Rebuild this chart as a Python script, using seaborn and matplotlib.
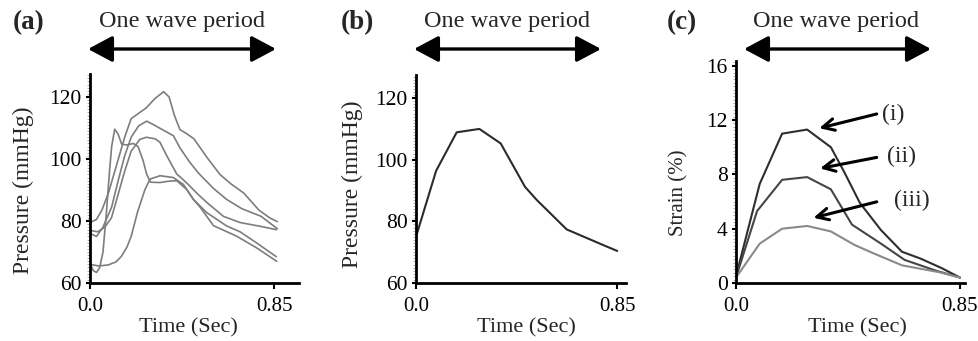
import matplotlib
matplotlib.use("Agg")
import matplotlib.pyplot as plt
import pandas as pd
import seaborn as sns
from matplotlib.patches import FancyArrowPatch
from matplotlib.ticker import MultipleLocator, FixedLocator

# (a) five measured pressure waveforms (time in s, pressure in mmHg)
t_a1 = [0.0, 0.03, 0.055, 0.085, 0.11, 0.135, 0.16, 0.19, 0.22, 0.26, 0.30, 0.34, 0.365,
        0.39, 0.415, 0.445, 0.48, 0.54, 0.60, 0.65, 0.71, 0.78, 0.83, 0.865]
p_a1 = [79.5, 80.5, 83.5, 89, 95, 101, 107, 113, 114.5, 116.5, 119.5, 121.7, 120,
        114, 109.5, 108.2, 106.5, 100.5, 95, 92, 89, 83.5, 81, 79.8]
t_a2 = [0.0, 0.03, 0.06, 0.10, 0.13, 0.16, 0.19, 0.225, 0.262, 0.30, 0.346, 0.385, 0.416,
        0.46, 0.50, 0.57, 0.63, 0.70, 0.79, 0.865]
p_a2 = [76, 75, 78, 84.5, 93, 101, 107, 110.7, 112.2, 110.8, 109, 107.5, 103.5,
        99, 95.5, 90.5, 87, 84, 81.5, 77.5]
t_a3 = [0.0, 0.035, 0.068, 0.099, 0.13, 0.16, 0.19, 0.23, 0.26, 0.30, 0.323, 0.354, 0.40,
        0.446, 0.50, 0.539, 0.616, 0.693, 0.785, 0.86]
p_a3 = [77, 76.5, 78, 81, 88.6, 96, 102.5, 106.3, 107, 106.5, 105.4, 101.1, 95.2,
        92.3, 88.5, 86, 81.5, 79.5, 78.3, 77.2]
t_a4 = [0.0, 0.015, 0.03, 0.045, 0.06, 0.075, 0.09, 0.10, 0.114, 0.13, 0.146, 0.17, 0.20,
        0.222, 0.245, 0.262, 0.28, 0.323, 0.36, 0.40, 0.446, 0.477, 0.508, 0.57, 0.677,
        0.77, 0.862]
p_a4 = [66.5, 64, 63.4, 65, 70, 82, 96, 104, 109.6, 108, 104.8, 104.5, 105,
        104, 99.5, 95, 92.5, 92.4, 92.8, 93, 90.2, 87, 84.5, 78.5, 75.1,
        71.3, 67]
t_a5 = [0.0, 0.04, 0.083, 0.12, 0.145, 0.17, 0.19, 0.22, 0.253, 0.277, 0.323, 0.385,
        0.431, 0.477, 0.539, 0.631, 0.693, 0.77, 0.839, 0.86]
p_a5 = [66, 65.5, 65.8, 66.8, 68.6, 71.5, 75, 83, 90, 93.5, 94.6, 94,
        91.8, 87, 82.7, 78.4, 76.5, 72.9, 69.5, 68.5]

# (b) averaged pressure waveform
t_b = [0.0, 0.085, 0.172, 0.268, 0.358, 0.461, 0.51, 0.637, 0.792, 0.851]
p_b = [75, 96.4, 108.9, 110.0, 105.3, 91.2, 87.0, 77.4, 72.3, 70.4]

# (c) strain curves (i), (ii), (iii)
t_c1 = [0.0, 0.09, 0.175, 0.27, 0.36, 0.41, 0.47, 0.55, 0.63, 0.70, 0.78, 0.85]
s_c1 = [0.5, 7.3, 11.0, 11.3, 10.0, 8.2, 5.9, 3.9, 2.3, 1.8, 1.1, 0.4]
t_c2 = [0.0, 0.08, 0.175, 0.27, 0.36, 0.44, 0.55, 0.64, 0.76, 0.85]
s_c2 = [0.4, 5.3, 7.6, 7.8, 6.9, 4.3, 2.9, 1.7, 0.9, 0.4]
t_c3 = [0.0, 0.09, 0.175, 0.27, 0.36, 0.45, 0.52, 0.63, 0.77, 0.85]
s_c3 = [0.4, 2.9, 4.0, 4.2, 3.8, 2.8, 2.2, 1.3, 0.8, 0.4]
curve_names = ["(i)", "(ii)", "(iii)"]

sns.set_theme(style="white")
plt.rcParams["font.family"] = ["Liberation Serif", "DejaVu Serif"]

W, H = 979, 341
fig = plt.figure(figsize=(W / 100, H / 100), dpi=100)


def box(x0, x1, y0, y1):
    # pixel box (from top-left) -> figure fraction
    return [x0 / W, (H - y1) / H, (x1 - x0) / W, (y1 - y0) / H]


ax_a = fig.add_axes(box(90, 299, 74, 283))
ax_b = fig.add_axes(box(416, 626, 75, 283))
ax_c = fig.add_axes(box(736, 965, 61, 283))

# panel (a)
rows = []
for i, (tt, pp) in enumerate([(t_a1, p_a1), (t_a2, p_a2), (t_a3, p_a3), (t_a4, p_a4), (t_a5, p_a5)]):
    rows.append(pd.DataFrame({"t": tt, "p": pp, "run": i}))
df_a = pd.concat(rows)
sns.lineplot(data=df_a, x="t", y="p", units="run", estimator=None, sort=False,
             color="#7d7d7d", linewidth=1.2, ax=ax_a)

# panel (b)
sns.lineplot(x=t_b, y=p_b, sort=False, color="#2b2b2b", linewidth=1.5, ax=ax_b)

# panel (c)
df_c = pd.concat([
    pd.DataFrame({"t": t_c1, "s": s_c1, "curve": curve_names[0]}),
    pd.DataFrame({"t": t_c2, "s": s_c2, "curve": curve_names[1]}),
    pd.DataFrame({"t": t_c3, "s": s_c3, "curve": curve_names[2]}),
])
sns.lineplot(data=df_c, x="t", y="s", hue="curve", estimator=None, sort=False,
             palette=["#2e2e2e", "#454545", "#8a8a8a"], linewidth=1.5, legend=False, ax=ax_c)

# labels on (c) with arrows
arrows_c = [((0.534, 12.45), (0.316, 11.4), (0.597, 12.45)),
            ((0.534, 9.25), (0.319, 8.44), (0.629, 9.35)),
            ((0.534, 5.98), (0.294, 4.8), (0.666, 6.1))]
for name, (tail, head, txt) in zip(curve_names, arrows_c):
    ax_c.annotate("", xy=head, xytext=tail,
                  arrowprops=dict(arrowstyle="->,head_length=0.7,head_width=0.35",
                                  lw=2.2, color="black", shrinkA=0, shrinkB=0))
    ax_c.text(txt[0], txt[1], name, fontsize=17, ha="center", va="center")

for ax, ylim, xlim, yticks, minor, ylab, ylab_size, lab_xy, xlab_xy in [
        (ax_a, (60, 127.4), (0, 0.965), [60, 80, 100, 120], 1, "Pressure (mmHg)", 17, (-0.32, 0.445), (0.469, -0.215)),
        (ax_b, (60, 127.5), (0, 0.888), [60, 80, 100, 120], 1, "Pressure (mmHg)", 17, (-0.305, 0.476), (0.524, -0.215)),
        (ax_c, (0, 16.35), (0, 0.869), [0, 4, 8, 12, 16], 0.25, "Strain (%)", 15, (-0.25, 0.405), (0.53, -0.2))]:
    ax.set_xlim(*xlim)
    ax.set_ylim(*ylim)
    sns.despine(ax=ax)
    for side in ["left", "bottom"]:
        ax.spines[side].set_linewidth(2.0)
        ax.spines[side].set_color("black")
    ax.xaxis.set_major_locator(FixedLocator([0.0, 0.85]))
    ax.set_xticklabels(["0.0", "0.85"])
    ax.yaxis.set_major_locator(FixedLocator(yticks))
    ax.yaxis.set_minor_locator(MultipleLocator(minor))
    ax.tick_params(axis="x", which="major", direction="out", length=4, width=1.5,
                   pad=6, labelsize=15, colors="black", bottom=True)
    ax.tick_params(axis="y", which="major", direction="out", length=3, width=1.5,
                   pad=3, labelsize=15.5, colors="black", left=True)
    ax.tick_params(axis="y", which="minor", direction="out", length=2.5, width=0.6,
                   color="#a0a0a0", left=True)
    ax.set_ylabel(ylab, fontsize=ylab_size)
    ax.set_xlabel("Time (Sec)", fontsize=16)
    ax.yaxis.set_label_coords(*lab_xy)
    ax.xaxis.set_label_coords(*xlab_xy)
    ax.xaxis.label.set_va("center")
    ax.yaxis.label.set_va("center")

# panel letters, titles and period arrows (pixel positions from the top-left)
for letter, lx, tx, ax0, ax1 in [("(a)", 29, 182, 88, 276),
                                 ("(b)", 357, 507, 414, 601),
                                 ("(c)", 682, 836, 744, 931)]:
    fig.text(lx / W, (H - 23) / H, letter, fontsize=19.5, fontweight="bold",
             ha="center", va="center")
    fig.text(tx / W, (H - 22) / H, "One wave period", fontsize=17.5,
             ha="center", va="center")
    fig.patches.append(FancyArrowPatch(
        (ax0 / W, (H - 49) / H), (ax1 / W, (H - 49) / H), transform=fig.transFigure,
        arrowstyle="<|-|>,head_length=0.75,head_width=0.4", mutation_scale=20,
        lw=2.4, color="black", shrinkA=0, shrinkB=0))

fig.savefig("out.png", dpi=100)
